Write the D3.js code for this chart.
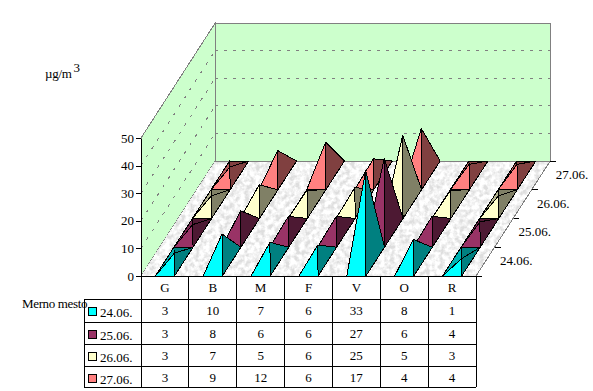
<!DOCTYPE html>
<html>
<head>
<meta charset="utf-8">
<script src="https://cdn.jsdelivr.net/npm/d3@7"></script>
<style>
body { margin: 0; background: #fff; }
svg { display: block; }
text { font-family: "Liberation Serif", serif; font-size: 13px; fill: #000; }
</style>
</head>
<body>
<div id="chart"></div>
<script>
const places = ["G", "B", "M", "F", "V", "O", "R"];
const days = ["24.06.", "25.06.", "26.06.", "27.06."];
const day24 = [3, 10, 7, 6, 33, 8, 1];
const day25 = [3, 8, 6, 6, 27, 6, 4];
const day26 = [3, 7, 5, 6, 25, 5, 3];
const day27 = [3, 9, 12, 6, 17, 4, 4];
const seriesValues = [day24, day25, day26, day27];
const zTicks = [0, 10, 20, 30, 40, 50];

const frontColors = ["#00ffff", "#993366", "#ffffcc", "#ff8080"];
const sideColors = ["#008080", "#4d1933", "#808066", "#804040"];
const leftColors = ["#00b3b3", "#7a2952", "#b3b38f", "#b35a5a"];

const svgWidth = 593;
const svgHeight = 391;

const svg = d3.select("#chart")
    .append("svg")
    .attr("width", svgWidth)
    .attr("height", svgHeight)
    // reference is an aliased bitmap, no smoothing on the shapes
    .attr("shape-rendering", "crispEdges");

// marble look of the floor: grey base with white blotches from the noise
const defs = svg.append("defs");
const marble = defs.append("filter").attr("id", "marble")
    .attr("x", 0).attr("y", 0).attr("width", 1).attr("height", 1);
marble.append("feTurbulence")
    .attr("type", "fractalNoise")
    .attr("baseFrequency", 0.2)
    .attr("numOctaves", 3)
    .attr("seed", 4);
marble.append("feColorMatrix")
    .attr("type", "matrix")
    .attr("values", "0 0 0 0 1  0 0 0 0 1  0 0 0 0 1  3 0 0 0 -0.9");
marble.append("feComposite").attr("in2", "SourceGraphic").attr("operator", "atop");

// floor position of the front left corner, everything is projected from there
const originX = 141;
const originY = 276;
const depthStepX = 18.55;
const depthStepY = 28.75;

const x = d3.scaleBand().domain(places).range([0, 335]);
const depth = d3.scaleBand().domain(days).range([0, days.length]);
const z = d3.scaleLinear().domain([0, 50]).range([0, 138]);

// place (in px along x), row (in depth units), value -> screen point
function project(px, row, value) {
    return [originX + px + row * depthStepX, originY - row * depthStepY - z(value)];
}
const rowCount = days.length;
function poly(points) {
    return points.map(p => p.join(",")).join(" ");
}

const floorPts = [project(0, 0, 0), project(335, 0, 0), project(335, rowCount, 0), project(0, rowCount, 0)];
const leftWall = [project(0, 0, 0), project(0, 0, 50), project(0, rowCount, 50), project(0, rowCount, 0)];
const backWall = [project(0, rowCount, 0), project(0, rowCount, 50), project(335, rowCount, 50), project(335, rowCount, 0)];

svg.append("polygon").attr("points", poly(leftWall))
    .attr("fill", "#ccffcc").attr("stroke", "#808080");
svg.append("polygon").attr("points", poly(backWall))
    .attr("fill", "#ccffcc").attr("stroke", "#808080");
svg.append("polygon").attr("points", poly(floorPts))
    .attr("fill", "#dedede").attr("stroke", "none")
    .attr("filter", "url(#marble)");
svg.append("line")
    .attr("x1", floorPts[3][0]).attr("y1", floorPts[3][1])
    .attr("x2", floorPts[2][0]).attr("y2", floorPts[2][1])
    .attr("stroke", "#808080");

// dashed gridlines on both walls
zTicks.slice(1, -1).forEach(function (t) {
    const a = project(0, 0, t), b = project(0, rowCount, t), c = project(335, rowCount, t);
    svg.append("line").attr("x1", a[0]).attr("y1", a[1]).attr("x2", b[0]).attr("y2", b[1])
        .attr("stroke", "#808080").attr("stroke-dasharray", "3,7");
    svg.append("line").attr("x1", b[0]).attr("y1", b[1]).attr("x2", c[0]).attr("y2", c[1])
        .attr("stroke", "#808080").attr("stroke-dasharray", "3,6");
});

// pyramids, back row first so the front ones cover them
const barWidth = x.bandwidth() * 0.4;
const pyramids = [];
days.forEach(function (day, s) {
    places.forEach(function (place, i) {
        pyramids.push({ s: s, i: i, place: place, day: day, value: seriesValues[s][i] });
    });
});
pyramids.sort((a, b) => d3.descending(a.s, b.s) || d3.ascending(a.i, b.i));

const pyramidG = svg.selectAll(".pyramid")
    .data(pyramids)
    .enter()
    .append("g")
    .attr("class", "pyramid")
    .attr("stroke", "#000")
    .attr("stroke-linejoin", "round");

function corners(d) {
    const left = x(d.place) + x.bandwidth() * 0.3;
    const row = depth(d.day);
    return {
        fl: project(left, row, 0),
        fr: project(left + barWidth, row, 0),
        bl: project(left, row + 1, 0),
        br: project(left + barWidth, row + 1, 0),
        apex: project(left + barWidth / 2, row + 0.5, d.value)
    };
}

// back and left faces only show on the low pyramids
pyramidG.append("polygon")
    .attr("points", d => { const c = corners(d); return poly([c.bl, c.br, c.apex]); })
    .attr("fill", d => sideColors[d.s]);
pyramidG.append("polygon")
    .attr("points", d => { const c = corners(d); return poly([c.fl, c.bl, c.apex]); })
    .attr("fill", d => leftColors[d.s]);
pyramidG.append("polygon")
    .attr("points", d => { const c = corners(d); return poly([c.fr, c.br, c.apex]); })
    .attr("fill", d => sideColors[d.s]);
pyramidG.append("polygon")
    .attr("points", d => { const c = corners(d); return poly([c.fl, c.fr, c.apex]); })
    .attr("fill", d => frontColors[d.s]);

// value axis
const zAxisScale = d3.scaleLinear().domain([0, 50]).range([originY, originY - 138]);
svg.append("g")
    .attr("transform", `translate(${originX},0)`)
    .call(d3.axisLeft(zAxisScale).tickValues(zTicks).tickSize(5).tickPadding(2).tickSizeOuter(0))
    .call(g => g.selectAll("text").style("font-family", "Liberation Serif").style("font-size", "13px").attr("fill", "#000"))
    .call(g => g.selectAll("line,path").attr("stroke", "#000"));

// depth ticks and labels on the right
days.forEach(function (day, s) {
    const p = project(335, s, 0);
    svg.append("line").attr("x1", p[0]).attr("y1", p[1]).attr("x2", p[0] + 6).attr("y2", p[1]).attr("stroke", "#000");
    svg.append("text").text(day).attr("x", p[0] + 24).attr("y", p[1] - 11);
});
const lastTick = project(335, rowCount, 0);
svg.append("line").attr("x1", lastTick[0]).attr("y1", lastTick[1]).attr("x2", lastTick[0] + 6).attr("y2", lastTick[1]).attr("stroke", "#000");
svg.append("line").attr("x1", originX).attr("y1", originY).attr("x2", lastTick[0] - 75).attr("y2", originY).attr("stroke", "#000");
svg.append("line")
    .attr("x1", project(335, 0, 0)[0]).attr("y1", originY)
    .attr("x2", lastTick[0]).attr("y2", lastTick[1]).attr("stroke", "#808080");

// data table
const tableLeft = 84;
const rowLines = [276, 299, 322, 344, 366, 387];
const table = svg.append("g").attr("stroke", "#000");
rowLines.forEach(function (y, i) {
    table.append("line")
        .attr("x1", i === 0 ? originX : tableLeft).attr("x2", originX + 335)
        .attr("y1", y).attr("y2", y);
});
places.concat("end").forEach(function (place, i) {
    const lineX = originX + i * x.step();
    table.append("line").attr("x1", lineX).attr("x2", lineX).attr("y1", rowLines[0]).attr("y2", rowLines[5]);
});
table.append("line").attr("x1", tableLeft).attr("x2", tableLeft).attr("y1", rowLines[1]).attr("y2", rowLines[5]);

places.forEach(function (place, i) {
    svg.append("text").text(place)
        .attr("x", originX + x(place) + x.bandwidth() / 2).attr("y", 292)
        .attr("text-anchor", "middle");
    seriesValues.forEach(function (vals, s) {
        svg.append("text").text(vals[i])
            .attr("x", originX + x(place) + x.bandwidth() / 2).attr("y", rowLines[s + 1] + 15.5)
            .attr("text-anchor", "middle");
    });
});
days.forEach(function (day, s) {
    svg.append("rect")
        .attr("x", 88.5).attr("y", rowLines[s + 1] + 8.5).attr("width", 8).attr("height", 8)
        .attr("fill", frontColors[s]).attr("stroke", "#000");
    svg.append("text").text(day).attr("x", 100).attr("y", rowLines[s + 1] + 17.5);
});

svg.append("text").text("Merno mesto").attr("x", 22).attr("y", 308).attr("letter-spacing", "-0.35");

const unit = svg.append("text").attr("x", 45).attr("y", 78);
unit.append("tspan").text("µg/m").attr("letter-spacing", "-0.3");
unit.append("tspan").text("3").attr("dx", 2).attr("dy", -6);
</script>
</body>
</html>
